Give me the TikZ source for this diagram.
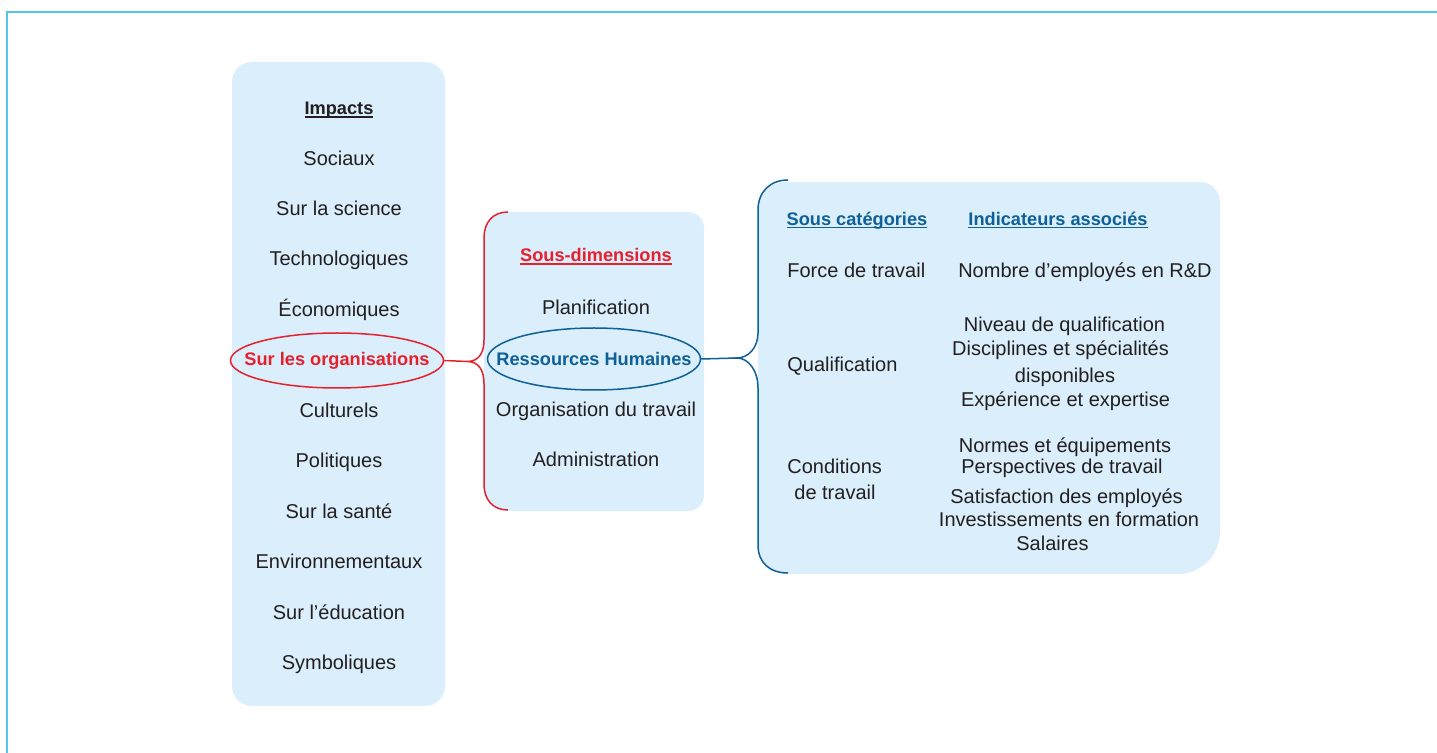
\documentclass[tikz,border=0pt]{standalone}
\usepackage{fontspec}
\setmainfont{Liberation Sans}
\usetikzlibrary{shapes.geometric}
\definecolor{boxblue}{RGB}{218,238,251}
\definecolor{hred}{RGB}{230,32,45}
\definecolor{hblue}{RGB}{14,96,150}
\definecolor{frameblue}{RGB}{85,195,235}
\definecolor{ink}{RGB}{35,31,32}
\newcommand{\myul}[1]{\setbox0\hbox{#1}\rlap{\rule[-1.3pt]{\wd0}{0.6pt}}\box0}
\begin{document}
\begin{tikzpicture}[x=0.5pt,y=-0.5pt,
  reg/.style={font=\fontsize{10}{12}\selectfont, text=ink, inner sep=0pt, anchor=base},
  regw/.style={reg, anchor=base west},
  bld/.style={font=\fontsize{9.1}{11}\selectfont\bfseries, inner sep=0pt, anchor=base},
  panel/.style={fill=boxblue, draw=none},
  redline/.style={draw=hred, line width=0.75pt},
  blueline/.style={draw=hblue, line width=0.75pt},
  oval/.style={ellipse, inner sep=0pt, line width=0.75pt, font=\fontsize{9.1}{11}\selectfont\bfseries},
]
\useasboundingbox (0,0) rectangle (1437,753);
% frame
\draw[frameblue, line width=1pt] (7,753) -- (7,12) -- (1437,12);

% panels
\node[panel, rounded corners=10pt, minimum width=106.5pt, minimum height=322pt, inner sep=0pt] (leftpanel) at (338.5,384) {};
\fill[boxblue] (508,212) -- (688,212) .. controls (697,212) and (704,219) .. (704,228)
  -- (704,495) .. controls (704,504) and (697,511) .. (688,511) -- (508,511)
  .. controls (493,510) and (484,500) .. (484,484) -- (484,238)
  .. controls (484,222) and (493,212) .. (508,212) -- cycle;
\fill[boxblue] (788,182) -- (1200,182) .. controls (1211,182) and (1220,191) .. (1220,202)
  -- (1220,532) .. controls (1220,555) and (1201,574) .. (1178,574) -- (788,574)
  .. controls (770,573) and (758,563) .. (758,545) -- (758,210)
  .. controls (758,192) and (770,182) .. (788,182) -- cycle;

% left column
\node[bld, text=ink] (impacts) at (339,115) {\myul{Impacts}};
\node[reg] (sociaux) at (339,166) {Sociaux};
\node[reg] (science) at (339,216) {Sur la science};
\node[reg] (techno) at (339,266) {Technologiques};
\node[reg] (eco) at (339,317) {Économiques};
\node[oval, draw=hred, minimum width=106.5pt, minimum height=27.5pt, text=hred]
  (orgs) at (337,360.5) {\makebox[0pt]{Sur les organisations}};
\node[reg] (cult) at (339,418) {Culturels};
\node[reg] (poli) at (339,468) {Politiques};
\node[reg] (sante) at (339,519) {Sur la santé};
\node[reg] (env) at (339,569) {Environnementaux};
\node[reg] (educ) at (339,620) {Sur l’éducation};
\node[reg] (symb) at (339,670) {Symboliques};

% middle column
\node[bld, text=hred] (sousdim) at (596,262) {\myul{Sous-dimensions}};
\node[reg] (planif) at (596,315) {Planification};
\node[oval, draw=hblue, minimum width=106.5pt, minimum height=31pt, text=hblue]
  (rh) at (594,359) {\makebox[0pt]{Ressources Humaines}};
\node[reg] (orgtrav) at (596,417) {Organisation du travail};
\node[reg] (admin) at (596,467) {Administration};

% right panel
\node[bld, text=hblue] (souscat) at (857,225.5) {\myul{Sous catégories}};
\node[bld, text=hblue] (indic) at (1058,225.5) {\myul{Indicateurs associés}};
\node[regw] (force) at (787,278) {Force de travail};
\node[reg] (nombre) at (1085,278) {Nombre d’employés en R\&D};
\node[regw] (qualif) at (787,372) {Qualification};
\node[reg] (niveau) at (1064.5,332) {Niveau de qualification};
\node[reg] (discip) at (1060.5,356) {Disciplines et spécialités};
\node[reg] (dispo) at (1065,383) {disponibles};
\node[reg] (exper) at (1065.5,407) {Expérience et expertise};
\node[regw] (cond) at (787,474) {Conditions};
\node[regw] (detrav) at (794,500) {de travail};
\node[reg] (normes) at (1065,453) {Normes et équipements};
\node[reg] (persp) at (1062,474) {Perspectives de travail};
\node[reg] (satisf) at (1066.5,504) {Satisfaction des employés};
\node[reg] (invest) at (1069,527) {Investissements en formation};
\node[reg] (salaires) at (1052.5,551) {Salaires};

% braces and connectors
\coordinate (rcusp) at (467,361.5);
\draw[redline] (508,212) .. controls (493,212) and (484,222) .. (484,238) -- (484,340)
  .. controls (484,354) and (478,361.5) .. (rcusp)
  .. controls (478,361.5) and (484,369) .. (484,384) -- (484,484)
  .. controls (484,500) and (493,510) .. (508,510);
\draw[redline] (orgs.east) -- (rcusp);

\coordinate (bcusp) at (737,358);
\draw[blueline] (788,180) .. controls (770,180) and (758,192) .. (758,210) -- (758,333)
  .. controls (758,348) and (748,358) .. (bcusp)
  .. controls (748,358) and (758,370) .. (758,388) -- (758,545)
  .. controls (758,563) and (770,573) .. (788,573);
\draw[blueline] (rh.east) -- (bcusp);
\end{tikzpicture}
\end{document}
